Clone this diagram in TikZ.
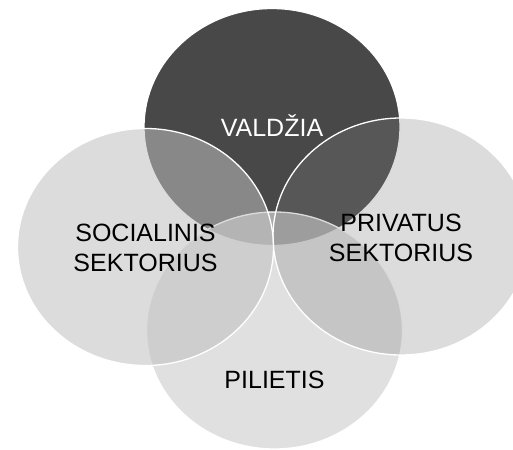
\documentclass[tikz,border=0pt]{standalone}
\usepackage{fontspec}
\setmainfont{Liberation Sans}
\usetikzlibrary{shapes.geometric}
\definecolor{valdziagray}{HTML}{484848}
\definecolor{pilietisgray}{HTML}{D3D3D3}
\definecolor{privatusgray}{HTML}{808080}
\definecolor{socialinisgray}{HTML}{BFBFBF}
\begin{document}
\begin{tikzpicture}[x=1pt, y=-1pt,
    venn/.style={shape=ellipse, minimum width=256pt, minimum height=237pt,
                 inner sep=0pt, draw=white, line width=1.3pt}]
\tikzset{every node/.style={font=\fontsize{25}{30}\selectfont, align=center}}
%\tikzset{every node/.style={font=\sffamily\Large}}
\useasboundingbox (0,0) rectangle (513,449);
% circles, back to front
\node[venn, fill=valdziagray] (valdzia) at (272,127) {};
\node[venn, fill=pilietisgray, fill opacity=0.7] (pilietis) at (274.5,330.5) {};
\node[venn, fill=privatusgray, fill opacity=0.28] (privatus) at (401,236.5) {};
\node[venn, fill=socialinisgray, fill opacity=0.54] (socialinis) at (145.5,247) {};
% labels
\node[anchor=base, text=white] (valdziaText) at ([yshift=-10pt]valdzia.center) {VALDŽIA};
\node (socialinisText) at ([yshift=-1pt]socialinis.center) {SOCIALINIS\\SEKTORIUS};
\node (privatusText) at ([yshift=-1.5pt]privatus.center) {PRIVATUS\\SEKTORIUS};
\node[anchor=base] (pilietisText) at ([yshift=-57.5pt]pilietis.center) {PILIETIS};
\end{tikzpicture}
\end{document}
